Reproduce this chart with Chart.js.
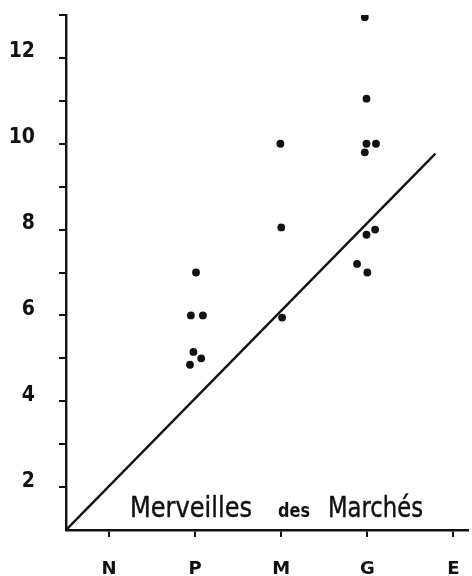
<!DOCTYPE html>
<html>
<head>
<meta charset="utf-8">
<script src="https://cdn.jsdelivr.net/npm/chart.js@4"></script>
<style>
  html, body { margin: 0; padding: 0; background: #fff; }
  canvas { display: block; }
</style>
</head>
<body>
<canvas id="chart" width="472" height="576"></canvas>
<script>
// categories on the x axis
const categories = ['N', 'P', 'M', 'G', 'E'];

// observed points (x = category index with the small hand offsets)
const pointsX = [1.01, 0.95, 1.09, 0.98, 1.07, 0.94, 1.99, 2.0, 2.01, 2.97, 2.99, 2.99, 3.10, 2.97, 3.09, 2.99, 2.88, 3.0];
const pointsY = [7, 6, 6, 5.15, 5.0, 4.85, 10, 8.05, 5.95, 12.95, 11.05, 10.0, 10.0, 9.8, 8.0, 7.88, 7.2, 7.0];

// the straight reference line
const lineX = [-0.5, 3.79];
const lineY = [1, 9.77];

// y ticks (labels only on even values)
const yTicks = [2, 3, 4, 5, 6, 7, 8, 9, 10, 11, 12, 13];
const yLabels = [2, 4, 6, 8, 10, 12];

const ink = '#111';

//title lettering under the line
const titlePlugin = {
  id: 'lettering',
  afterDraw(chart) {
    const ctx = chart.ctx;
    function word(text, x, base, w, size, weight, stroke) {
      ctx.save();
      ctx.font = weight + ' ' + size + 'px "DejaVu Sans"';
      const m = ctx.measureText(text).width;
      ctx.translate(x, base);
      ctx.scale(w / m, 1);
      ctx.fillStyle = ink;
      ctx.strokeStyle = ink;
      ctx.lineWidth = stroke;
      ctx.textBaseline = 'alphabetic';
      ctx.fillText(text, 0, 0);
      if (stroke > 0) ctx.strokeText(text, 0, 0);
      ctx.restore();
    }
    word('Merveilles', 130, 517, 122, 29, 'normal', 0.45);
    word('des', 278, 517, 32, 19, 'bold', 0);
    word('Marchés', 328, 517, 95, 29, 'normal', 0.45);
  }
};

const ctx = document.getElementById('chart').getContext('2d');

const chart = new Chart(ctx, {
  type: 'scatter',
  data: {
    datasets: [{
      data: pointsX.map((x, i) => ({ x: x, y: pointsY[i] })),
      backgroundColor: ink,
      borderColor: ink,
      pointRadius: 3.9,
      pointHoverRadius: 3.9,
      borderWidth: 0,
    },
    {
      type: 'line',
      data: lineX.map((x, i) => ({ x: x, y: lineY[i] })),
      borderColor: ink,
      borderWidth: 2.4,
      pointRadius: 0,
      fill: false,
    }]
  },
  options: {
    responsive: false,
    animation: false,
    devicePixelRatio: 1,
    layout: { padding: { top: 15, right: 0, left: 0, bottom: 0 } },
    plugins: { legend: { display: false }, tooltip: { enabled: false } },
    scales: {
      x: {
        type: 'linear',
        min: -0.5,
        max: 4.17,
        afterBuildTicks: (scale) => {
          scale.ticks = categories.map((c, i) => ({ value: i }));
        },
        afterFit: (scale) => {
          scale.height = 46;
          scale.paddingLeft = 0;
          scale.paddingRight = 0;
        },
        border: { color: ink, width: 2.4 },
        grid: { drawOnChartArea: false, color: ink, lineWidth: 2, tickLength: 7 },
        ticks: {
          padding: 22,
          color: ink,
          font: { family: 'DejaVu Sans', weight: 'bold', size: 18 },
          callback: (v) => categories[v],
        }
      },
      y: {
        min: 1,
        max: 13,
        afterBuildTicks: (scale) => {
          scale.ticks = yTicks.map((v) => ({ value: v }));
        },
        afterFit: (scale) => {
          scale.width = 66;
          scale.paddingTop = 0;
          scale.paddingBottom = 0;
        },
        border: { color: ink, width: 2.4 },
        grid: { drawOnChartArea: false, color: ink, lineWidth: 2, tickLength: 7 },
        ticks: {
          padding: 24,
          labelOffset: -6,
          color: ink,
          font: { family: 'DejaVu Sans Condensed', weight: 'bold', size: 21 },
          callback: (v) => yLabels.includes(v) ? v : '',
        }
      }
    }
  },
  plugins: [titlePlugin]
});
</script>
</body>
</html>
